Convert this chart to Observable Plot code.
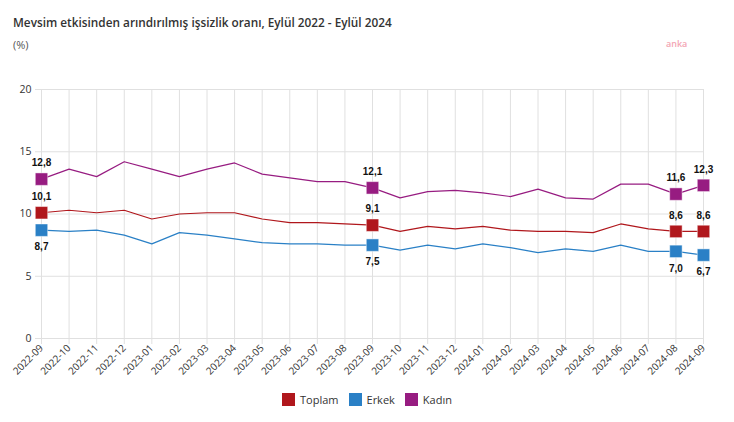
<!DOCTYPE html>
<html>
<head>
<meta charset="utf-8">
<script src="https://cdn.jsdelivr.net/npm/d3@7"></script>
<script src="https://cdn.jsdelivr.net/npm/@observablehq/plot@0.6"></script>
<style>
  html, body { margin: 0; padding: 0; background: #fff; }
  #wrap { position: relative; width: 734px; height: 422px; overflow: hidden; font-family: "Open Sans", "Noto Sans", sans-serif; color: #333; }
  #title { position: absolute; left: 13px; top: 14px; font-size: 11.8px; font-weight: 600; color: #333; white-space: nowrap; }
  #unit { position: absolute; left: 13px; top: 37px; font-size: 11px; color: #555; }
  #mark { position: absolute; left: 666px; top: 37px; font-size: 9px; color: #f3a5b3; font-weight: 600; }
  #chart { position: absolute; left: 0; top: 60px; }
  #legend { position: absolute; left: 0; width: 734px; top: 392px; display: flex; justify-content: center; gap: 10px; font-size: 11px; color: #333; padding-left: 0; }
  .item { display: flex; align-items: center; gap: 5px; }
  .sw { width: 13px; height: 13px; display: inline-block; box-sizing: border-box; }
</style>
</head>
<body>
<div id="wrap">
  <div id="title"></div>
  <div id="unit"></div>
  <div id="mark"></div>
  <div id="chart"></div>
  <div id="legend"></div>
</div>
<script>
const titleText = "Mevsim etkisinden arındırılmış işsizlik oranı, Eylül 2022 - Eylül 2024";
const unitText = "(%)";
const watermark = "anka";

const months = ["2022-09","2022-10","2022-11","2022-12","2023-01","2023-02","2023-03","2023-04","2023-05","2023-06","2023-07","2023-08","2023-09","2023-10","2023-11","2023-12","2024-01","2024-02","2024-03","2024-04","2024-05","2024-06","2024-07","2024-08","2024-09"];
const toplam = [10.1,10.3,10.1,10.3,9.6,10.0,10.1,10.1,9.6,9.3,9.3,9.2,9.1,8.6,9.0,8.8,9.0,8.7,8.6,8.6,8.5,9.2,8.8,8.6,8.6];
const erkek  = [8.7,8.6,8.7,8.3,7.6,8.5,8.3,8.0,7.7,7.6,7.6,7.5,7.5,7.1,7.5,7.2,7.6,7.3,6.9,7.2,7.0,7.5,7.0,7.0,6.7];
const kadin  = [12.8,13.6,13.0,14.2,13.6,13.0,13.6,14.1,13.2,12.9,12.6,12.6,12.1,11.3,11.8,11.9,11.7,11.4,12.0,11.3,11.2,12.4,12.4,11.6,12.3];
const seriesNames = ["Toplam","Erkek","Kadın"];
const seriesColors = ["#b0171c","#2a80c6","#971c81"];
const highlighted = ["2022-09","2023-09","2024-08","2024-09"];
const yTicks = [0,5,10,15,20];

document.getElementById("title").textContent = titleText;
document.getElementById("unit").textContent = unitText;
document.getElementById("mark").textContent = watermark;

const valuesByName = {Toplam: toplam, Erkek: erkek, "Kadın": kadin};
const data = seriesNames.flatMap(name => months.map((m, i) => ({month: m, value: valuesByName[name][i], series: name})));
const hl = data.filter(d => highlighted.includes(d.month));
const fmt = v => v.toFixed(1).replace(".", ",");

const chart = Plot.plot({
  width: 734,
  height: 320,
  marginTop: 29,
  marginBottom: 42,
  marginLeft: 41,
  marginRight: 31,
  style: {fontFamily: "'Open Sans', 'Noto Sans', sans-serif", fontSize: "10px", color: "#333", background: "transparent"},
  x: {type: "point", domain: months, padding: 0, round: false, label: null},
  y: {domain: [0, 20], label: null},
  color: {domain: seriesNames, range: seriesColors},
  marks: [
    Plot.gridX({stroke: "#e0e0e0", strokeOpacity: 1}),
    Plot.gridY(yTicks, {stroke: "#e0e0e0", strokeOpacity: 1}),
    Plot.axisX({tickSize: 6, tickPadding: 2, tickRotate: -45, stroke: "#e0e0e0", fill: "#333", fontSize: 10}),
    Plot.axisY(yTicks, {tickSize: 6, tickPadding: 4, stroke: "#e0e0e0", fill: "#333", fontSize: 10.5}),
    Plot.line(data, {x: "month", y: "value", stroke: "series", z: "series", strokeWidth: 1.2}),
    Plot.dot(hl, {x: "month", y: "value", fill: "series", symbol: "square", r: 7, stroke: "white", strokeOpacity: 0.45, strokeWidth: 1}),
    Plot.text(hl.filter(d => d.series !== "Erkek"), {x: "month", y: "value", text: d => fmt(d.value), dy: -16, fill: "#111", fontWeight: "bold", fontSize: 10, fontFamily: "'Liberation Sans', Arial, sans-serif"}),
    Plot.text(hl.filter(d => d.series === "Erkek"), {x: "month", y: "value", text: d => fmt(d.value), dy: 17, fill: "#111", fontWeight: "bold", fontSize: 10, fontFamily: "'Liberation Sans', Arial, sans-serif"})
  ]
});
document.getElementById("chart").appendChild(chart);

const legend = document.getElementById("legend");
seriesNames.forEach((name, i) => {
  const item = document.createElement("div");
  item.className = "item";
  const sw = document.createElement("span");
  sw.className = "sw";
  sw.style.background = seriesColors[i];
  const label = document.createElement("span");
  label.textContent = name;
  item.appendChild(sw);
  item.appendChild(label);
  legend.appendChild(item);
});
</script>
</body>
</html>
